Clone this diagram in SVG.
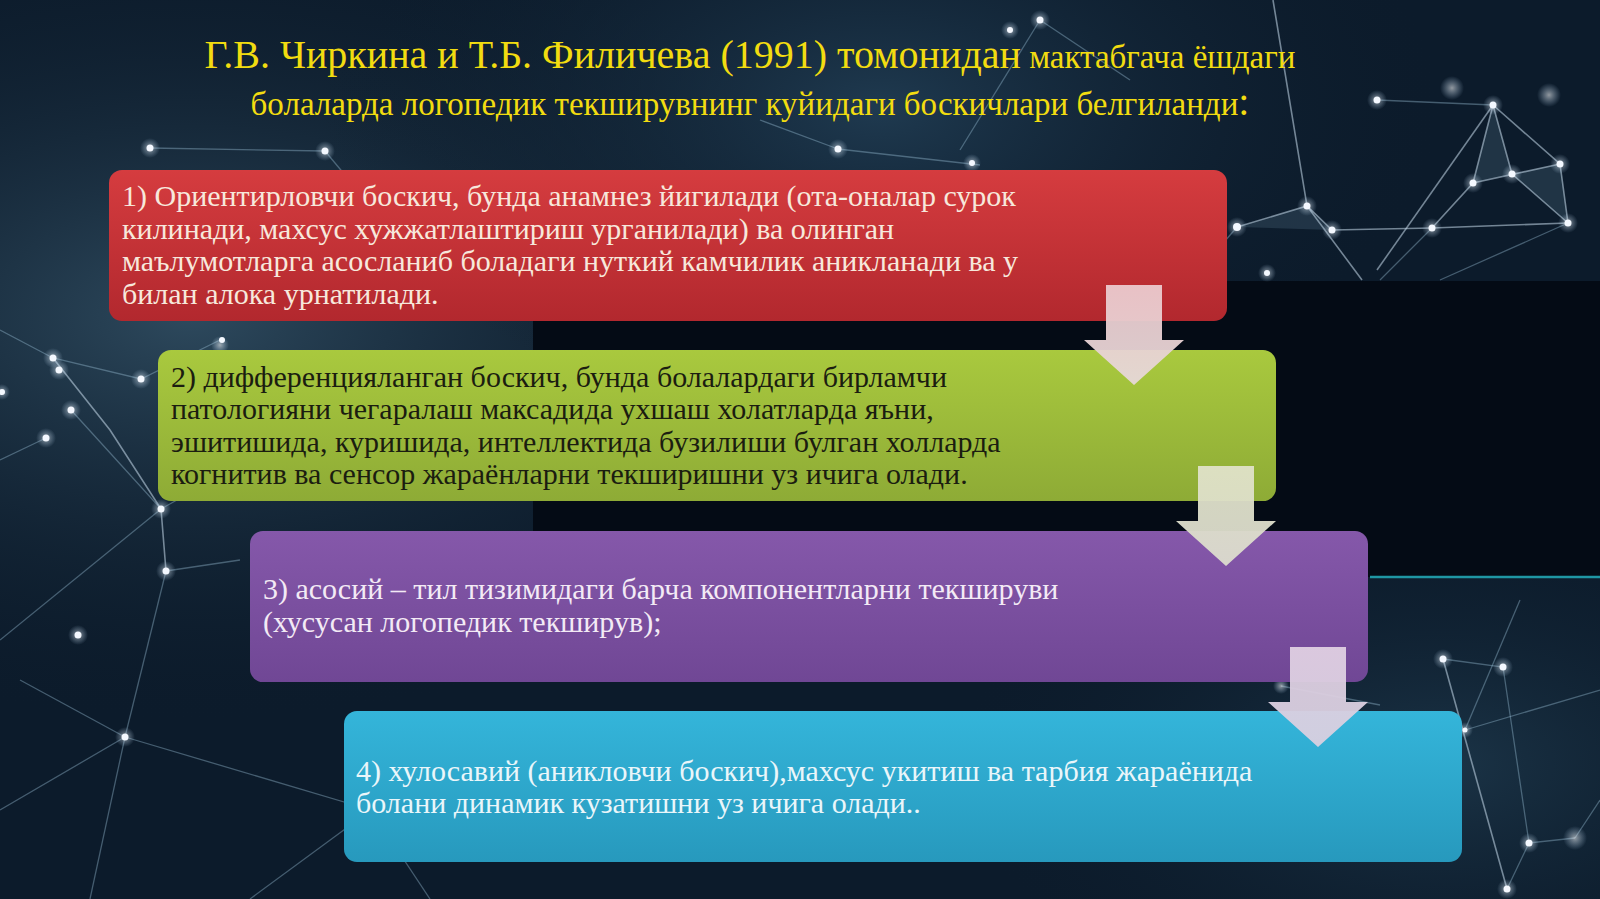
<svg xmlns="http://www.w3.org/2000/svg" width="1600" height="899" viewBox="0 0 1600 899">
<style>
.ln{stroke:#9cc0d8;stroke-width:1.3;opacity:.4;fill:none}
.lnb{stroke:#c8dcec;stroke-width:1.6;opacity:.55;fill:none}
.tri{fill:#7fa4bc;opacity:.18}
.glow{fill:url(#dotglow)}
.dot{fill:#f4f8ff}
.t{font-family:"Liberation Serif","Times New Roman",serif;font-size:30px}
.title{font-family:"Liberation Serif","Times New Roman",serif;fill:#f2dc10}
</style>
<defs>
<radialGradient id="bgA" cx="0.12" cy="0.35" r="0.45">
<stop offset="0" stop-color="#2e4a5e"/><stop offset="1" stop-color="#0d1d2d" stop-opacity="0"/>
</radialGradient>
<radialGradient id="bgB" cx="0.55" cy="0.12" r="0.35">
<stop offset="0" stop-color="#1f3a50"/><stop offset="1" stop-color="#0d1d2d" stop-opacity="0"/>
</radialGradient>
<radialGradient id="bgC" cx="0.9" cy="0.85" r="0.3">
<stop offset="0" stop-color="#1b3447"/><stop offset="1" stop-color="#0d1d2d" stop-opacity="0"/>
</radialGradient>
<radialGradient id="dotglow">
<stop offset="0" stop-color="#ffffff" stop-opacity=".55"/><stop offset="1" stop-color="#bfe0ff" stop-opacity="0"/>
</radialGradient>
<linearGradient id="gRed" x1="0" y1="0" x2="0" y2="1">
<stop offset="0" stop-color="#d53c3f"/><stop offset="1" stop-color="#b2282e"/>
</linearGradient>
<linearGradient id="gGreen" x1="0" y1="0" x2="0" y2="1">
<stop offset="0" stop-color="#a9c93e"/><stop offset="1" stop-color="#8eab36"/>
</linearGradient>
<linearGradient id="gPurple" x1="0" y1="0" x2="0" y2="1">
<stop offset="0" stop-color="#8558aa"/><stop offset="1" stop-color="#704795"/>
</linearGradient>
<linearGradient id="gBlue" x1="0" y1="0" x2="0" y2="1">
<stop offset="0" stop-color="#34b5da"/><stop offset="1" stop-color="#2799bd"/>
</linearGradient>
<linearGradient id="aPink" x1="0" y1="0" x2="0" y2="1">
<stop offset="0" stop-color="#ebc9cd"/><stop offset="1" stop-color="#e6d8d8"/>
</linearGradient>
<linearGradient id="aGreen" x1="0" y1="0" x2="0" y2="1">
<stop offset="0" stop-color="#e0e2c8"/><stop offset="1" stop-color="#dcdcce"/>
</linearGradient>
<linearGradient id="aPurple" x1="0" y1="0" x2="0" y2="1">
<stop offset="0" stop-color="#e0cfe2"/><stop offset="1" stop-color="#d8d0e0"/>
</linearGradient>
</defs>

<g id="background">
<rect width="1600" height="899" fill="#0c1b2b"/>
<rect width="1600" height="899" fill="url(#bgA)"/>
<rect width="1600" height="899" fill="url(#bgB)"/>
<rect width="1600" height="899" fill="url(#bgC)"/>
<rect x="533" y="281" width="1067" height="296" fill="#040b15"/>
<line x1="1370" y1="577" x2="1600" y2="577" stroke="#1f97a4" stroke-width="2.5"/>
<polygon class="tri" points="1493,105 1473,183 1512,174"/>
<polygon class="tri" points="1512,174 1560,164 1568,223"/>
<polygon class="tri" points="1237,227 1307,206 1332,230"/>
<polyline class="lnb" points="1273,0 1307,206 1362,280"/>
<polyline class="lnb" points="1237,227 1307,206 1332,230 1432,228 1568,223"/>
<polyline class="lnb" points="1493,105 1473,183 1432,228"/>
<polyline class="lnb" points="1493,105 1512,174 1568,223"/>
<polyline class="lnb" points="1493,105 1560,164 1568,223"/>
<line class="lnb" x1="1493" y1="105" x2="1377" y2="270"/>
<line class="lnb" x1="1473" y1="183" x2="1560" y2="164"/>
<line class="ln" x1="1377" y1="100" x2="1493" y2="105"/>
<line class="ln" x1="1237" y1="227" x2="1200" y2="270"/>
<line class="ln" x1="1432" y1="228" x2="1380" y2="280"/>
<line class="ln" x1="1568" y1="223" x2="1440" y2="280"/>
<line class="ln" x1="1040" y1="20" x2="1130" y2="80"/>
<line class="ln" x1="1040" y1="20" x2="960" y2="150"/>
<line class="ln" x1="838" y1="149" x2="980" y2="165"/>
<line class="ln" x1="838" y1="149" x2="760" y2="120"/>
<polyline class="ln" points="0,330 53,358 141,379 220,340"/>
<polyline class="lnb" points="53,358 110,430 161,509 166,571"/>
<polyline class="ln" points="71,410 161,509 230,470"/>
<line class="ln" x1="161" y1="509" x2="0" y2="640"/>
<line class="ln" x1="166" y1="571" x2="240" y2="560"/>
<line class="ln" x1="166" y1="571" x2="125" y2="737"/>
<line class="ln" x1="125" y1="737" x2="0" y2="810"/>
<line class="ln" x1="125" y1="737" x2="371" y2="810"/>
<line class="ln" x1="125" y1="737" x2="90" y2="899"/>
<line class="ln" x1="125" y1="737" x2="20" y2="680"/>
<line class="ln" x1="371" y1="810" x2="430" y2="899"/>
<line class="ln" x1="371" y1="810" x2="250" y2="899"/>
<line class="ln" x1="325" y1="151" x2="345" y2="175"/>
<line class="ln" x1="150" y1="148" x2="325" y2="151"/>
<line class="ln" x1="0" y1="460" x2="46" y2="438"/>
<polyline class="lnb" points="1443,659 1507,889"/>
<polyline class="ln" points="1443,659 1503,667 1529,843 1575,838"/>
<polyline class="ln" points="1520,600 1465,730"/>
<line class="ln" x1="1529" y1="843" x2="1507" y2="889"/>
<line class="ln" x1="1465" y1="730" x2="1600" y2="690"/>
<line class="ln" x1="1575" y1="838" x2="1600" y2="800"/>
<line class="ln" x1="1281" y1="686" x2="1380" y2="705"/>
<g>
<circle class="glow" cx="1493" cy="105" r="10"/><circle class="dot" cx="1493" cy="105" r="3.5"/>
<circle class="glow" cx="1560" cy="164" r="10"/><circle class="dot" cx="1560" cy="164" r="3.5"/>
<circle class="glow" cx="1512" cy="174" r="10"/><circle class="dot" cx="1512" cy="174" r="3.5"/>
<circle class="glow" cx="1473" cy="183" r="10"/><circle class="dot" cx="1473" cy="183" r="3.5"/>
<circle class="glow" cx="1568" cy="223" r="10"/><circle class="dot" cx="1568" cy="223" r="3.5"/>
<circle class="glow" cx="1432" cy="228" r="10"/><circle class="dot" cx="1432" cy="228" r="3.5"/>
<circle class="glow" cx="1332" cy="230" r="10"/><circle class="dot" cx="1332" cy="230" r="3.5"/>
<circle class="glow" cx="1307" cy="206" r="10"/><circle class="dot" cx="1307" cy="206" r="3.5"/>
<circle class="glow" cx="1237" cy="227" r="10"/><circle class="dot" cx="1237" cy="227" r="4"/>
<circle class="glow" cx="1377" cy="100" r="10"/><circle class="dot" cx="1377" cy="100" r="3.5"/>
<circle class="glow" cx="1267" cy="273" r="9"/><circle class="dot" cx="1267" cy="273" r="3"/>
<circle class="glow" cx="1452" cy="88" r="12"/>
<circle class="glow" cx="1549" cy="95" r="12"/>
<circle class="glow" cx="1040" cy="20" r="10"/><circle class="dot" cx="1040" cy="20" r="3.5"/>
<circle class="glow" cx="1010" cy="30" r="9"/><circle class="dot" cx="1010" cy="30" r="3"/>
<circle class="glow" cx="838" cy="149" r="10"/><circle class="dot" cx="838" cy="149" r="3.5"/>
<circle class="glow" cx="972" cy="163" r="9"/><circle class="dot" cx="972" cy="163" r="3"/>
<circle class="glow" cx="150" cy="148" r="10"/><circle class="dot" cx="150" cy="148" r="3.5"/>
<circle class="glow" cx="325" cy="151" r="10"/><circle class="dot" cx="325" cy="151" r="3.5"/>
<circle class="glow" cx="53" cy="358" r="10"/><circle class="dot" cx="53" cy="358" r="3.5"/>
<circle class="glow" cx="59" cy="370" r="10"/><circle class="dot" cx="59" cy="370" r="3.5"/>
<circle class="glow" cx="141" cy="379" r="10"/><circle class="dot" cx="141" cy="379" r="3.5"/>
<circle class="glow" cx="71" cy="410" r="10"/><circle class="dot" cx="71" cy="410" r="3.5"/>
<circle class="glow" cx="46" cy="438" r="10"/><circle class="dot" cx="46" cy="438" r="3.5"/>
<circle class="glow" cx="2" cy="392" r="8"/><circle class="dot" cx="2" cy="392" r="3"/>
<circle class="glow" cx="161" cy="509" r="10"/><circle class="dot" cx="161" cy="509" r="3.5"/>
<circle class="glow" cx="166" cy="571" r="10"/><circle class="dot" cx="166" cy="571" r="3.5"/>
<circle class="glow" cx="78" cy="635" r="10"/><circle class="dot" cx="78" cy="635" r="3.5"/>
<circle class="glow" cx="125" cy="737" r="10"/><circle class="dot" cx="125" cy="737" r="3.5"/>
<circle class="glow" cx="371" cy="810" r="10"/><circle class="dot" cx="371" cy="810" r="3.5"/>
<circle class="glow" cx="220" cy="345" r="9"/><circle class="dot" cx="222" cy="340" r="3"/>
<circle class="glow" cx="1443" cy="659" r="10"/><circle class="dot" cx="1443" cy="659" r="3.5"/>
<circle class="glow" cx="1503" cy="667" r="10"/><circle class="dot" cx="1503" cy="667" r="3.5"/>
<circle class="glow" cx="1465" cy="730" r="8"/><circle class="dot" cx="1465" cy="730" r="2.5"/>
<circle class="glow" cx="1529" cy="843" r="10"/><circle class="dot" cx="1529" cy="843" r="3.5"/>
<circle class="glow" cx="1575" cy="838" r="12"/>
<circle class="glow" cx="1507" cy="889" r="10"/><circle class="dot" cx="1507" cy="889" r="3.5"/>
<circle class="glow" cx="1281" cy="686" r="8"/>
</g>
</g>

<g id="title">
<text class="title" x="750" y="68" text-anchor="middle"><tspan font-size="40">Г.В. Чиркина и Т.Б. Филичева (1991) томонидан</tspan><tspan font-size="33"> мактабгача ёшдаги</tspan></text>
<text class="title" x="750" y="115" text-anchor="middle" font-size="33">болаларда логопедик текширувнинг куйидаги боскичлари белгиланди<tspan font-size="40">:</tspan></text>
</g>

<g id="step1">
<rect x="109" y="170" width="1118" height="151" rx="13" fill="url(#gRed)"/>
<text class="t" fill="#f7e8dc">
<tspan x="122" y="206">1) Ориентирловчи боскич, бунда анамнез йигилади (ота-оналар сурок</tspan>
<tspan x="122" y="239">килинади, махсус хужжатлаштириш урганилади) ва олинган</tspan>
<tspan x="122" y="271">маълумотларга асосланиб боладаги нуткий камчилик аникланади ва у</tspan>
<tspan x="122" y="304">билан алока урнатилади.</tspan>
</text>
</g>

<g id="step2">
<rect x="158" y="350" width="1118" height="151" rx="13" fill="url(#gGreen)"/>
<text class="t" fill="#1b1d10">
<tspan x="171" y="387">2) дифференцияланган боскич, бунда болалардаги бирламчи</tspan>
<tspan x="171" y="419">патологияни чегаралаш максадида ухшаш холатларда яъни,</tspan>
<tspan x="171" y="452">эшитишида, куришида, интеллектида бузилиши булган холларда</tspan>
<tspan x="171" y="484">когнитив ва сенсор жараёнларни текширишни уз ичига олади.</tspan>
</text>
</g>

<g id="step3">
<rect x="250" y="531" width="1118" height="151" rx="13" fill="url(#gPurple)"/>
<text class="t" fill="#f3eaf5">
<tspan x="263" y="599">3) асосий – тил тизимидаги барча компонентларни текшируви</tspan>
<tspan x="263" y="632">(хусусан логопедик текширув);</tspan>
</text>
</g>

<g id="step4">
<rect x="344" y="711" width="1118" height="151" rx="13" fill="url(#gBlue)"/>
<text class="t" fill="#eaf6fa">
<tspan x="356" y="781">4) хулосавий (аникловчи боскич),махсус укитиш ва тарбия жараёнида</tspan>
<tspan x="356" y="813">болани динамик кузатишни уз ичига олади..</tspan>
</text>
</g>

<g id="connectors">
<polygon points="1106,285 1162,285 1162,340 1184,340 1134,385 1084,340 1106,340" fill="url(#aPink)" opacity="0.95"/>
<polygon points="1198,466 1254,466 1254,521 1276,521 1226,566 1176,521 1198,521" fill="url(#aGreen)" opacity="0.95"/>
<polygon points="1290,647 1346,647 1346,702 1368,702 1318,747 1268,702 1290,702" fill="url(#aPurple)" opacity="0.95"/>
</g>
</svg>
